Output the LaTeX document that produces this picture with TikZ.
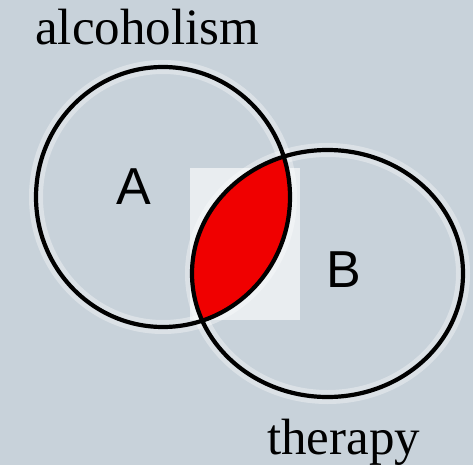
\documentclass[tikz,border=0pt]{standalone}
\usepackage{fontspec}
\setmainfont{Liberation Serif}
\newfontfamily\labelfont{Liberation Sans}
\definecolor{bg}{HTML}{C8D2DA}
\definecolor{lensred}{HTML}{F00000}
\begin{document}
\begin{tikzpicture}[x=1pt,y=-1pt,
  setring/.style={draw=black,line width=4.2pt},
  halo/.style={draw=white,line width=14pt,opacity=0.35},
  caption/.style={font=\fontsize{51}{51}\selectfont,inner sep=0pt,anchor=base west},
  letter/.style={font=\labelfont\fontsize{52}{52}\selectfont,inner sep=0pt}]
\fill[bg] (0,0) rectangle (473,465);
\useasboundingbox (0,0) rectangle (473,465);
% faint white speckle halos
\draw[halo] (163,197) ellipse [x radius=127, y radius=130];
\draw[halo] (327.5,273.5) ellipse [x radius=135.5, y radius=123.5];
\fill[white,opacity=0.6] (190,168) rectangle (300,320);
% lens
\begin{scope}
  \clip (163,197) ellipse [x radius=127, y radius=130];
  \fill[lensred] (327.5,273.5) ellipse [x radius=135.5, y radius=123.5];
\end{scope}
\draw[setring] (163,197) ellipse [x radius=127, y radius=130];
\draw[setring] (327.5,273.5) ellipse [x radius=135.5, y radius=123.5];
\node[letter] (a) at (134,187) {A};
\node[letter] (b) at (344,270) {B};
\node[caption] (alc) at (35,45) {alcoholism};
\node[caption] (ther) at (267,454) {therapy};
\end{tikzpicture}
\end{document}
